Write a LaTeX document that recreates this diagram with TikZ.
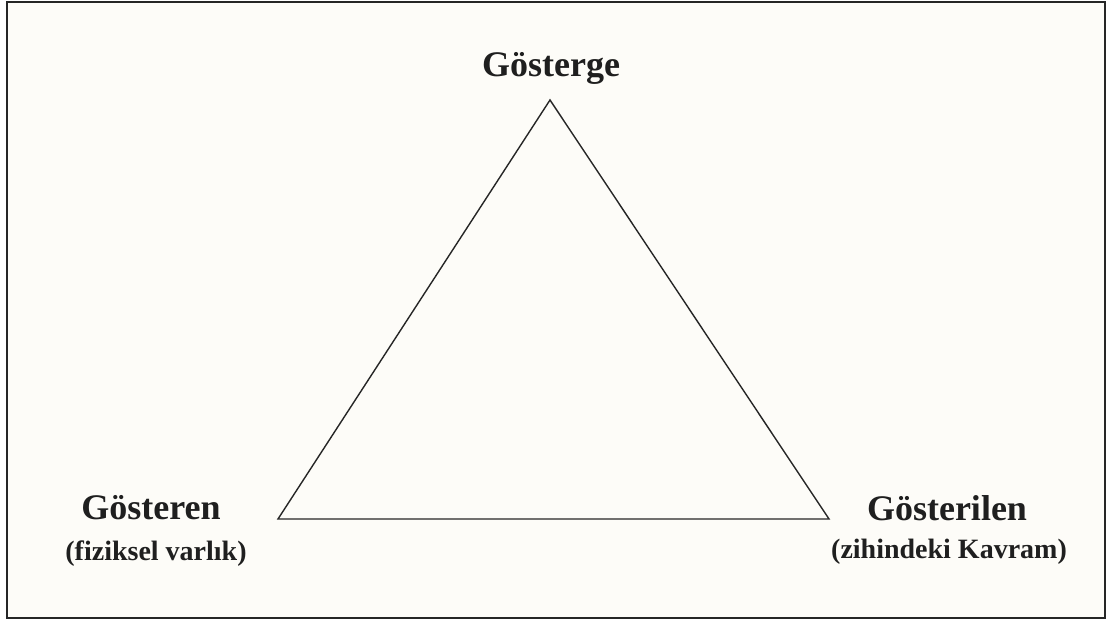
\documentclass[tikz,border=0pt]{standalone}
\usepackage{fontspec}
\setmainfont{Liberation Serif}
\begin{document}
\begin{tikzpicture}[x=1pt,y=-1pt,
  big/.style={font=\bfseries\fontsize{36}{40}\selectfont, anchor=base, inner sep=0pt, text=black!88},
  small/.style={font=\bfseries\fontsize{28}{32}\selectfont, anchor=base, inner sep=0pt, text=black!88},
  edge/.style={draw=black!85, line width=1.4pt, line join=miter}]
\useasboundingbox (0,0) rectangle (1113,621);
\fill[white] (0,0) rectangle (1113,621);
\draw[fill={rgb,255:red,253;green,252;blue,248}, draw=black!85, line width=2.2pt] (7,2) rectangle (1105,618);
\coordinate (top) at (550,100);
\coordinate (left) at (278,519);
\coordinate (right) at (829,519);
\draw[edge] (top) -- (left) -- (right) -- cycle;
\node[big] (sign) at (551,76) {Gösterge};
\node[big] (signifier) at (151,519) {Gösteren};
\node[small] (signifiernote) at (156,560) {(fiziksel varlık)};
\node[big] (signified) at (947,520) {Gösterilen};
\node[small] (signifiednote) at (949,558) {(zihindeki Kavram)};
\end{tikzpicture}
\end{document}
